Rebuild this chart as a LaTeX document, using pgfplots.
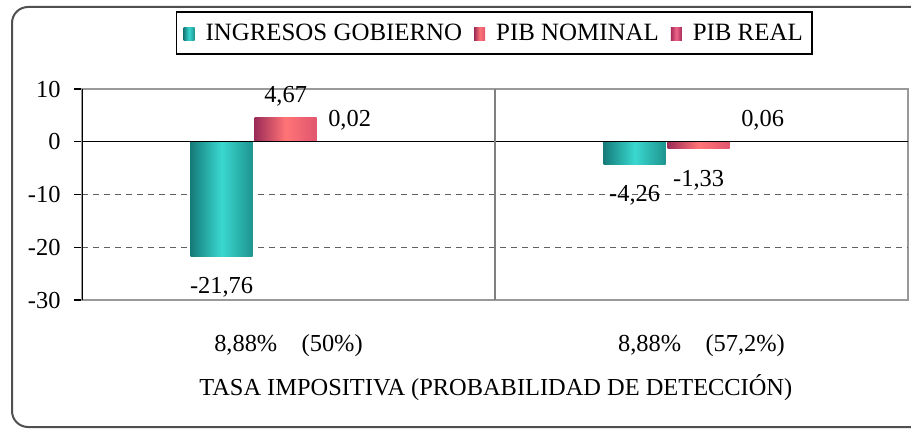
\documentclass[border=0pt]{standalone}
\usepackage{fontspec}
\setmainfont{Liberation Serif}
\usepackage{pgfplots}
\pgfplotsset{compat=1.18}
\definecolor{tealD}{HTML}{157C7A}
\definecolor{tealR}{HTML}{1E9490}
\definecolor{tealL}{HTML}{3AD8D0}
\definecolor{redD}{HTML}{9C2C58}
\definecolor{redL}{HTML}{FF7476}
\definecolor{redR}{HTML}{E0566E}
\definecolor{pinkD}{HTML}{A82A58}
\definecolor{pinkL}{HTML}{F0668A}
\definecolor{frameC}{HTML}{505050}
\definecolor{gridC}{HTML}{606060}
\pgfplotsset{
  sIng/.style={bar shift=-0.162, draw=none, left color=tealD, right color=tealR, middle color=tealL},
  sNom/.style={bar shift=-0.007, draw=none, left color=redD, right color=redR, middle color=redL},
  sReal/.style={bar shift=0.148, draw=none, left color=pinkD, right color=pinkD, middle color=pinkL},
}
\begin{document}
\begin{tikzpicture}[x=1bp,y=1bp,font=\fontsize{24.5}{28}\selectfont]
\useasboundingbox (0,0) rectangle (911,430);
\draw[frameC, line width=2bp, rounded corners=16bp] (12,3) rectangle (930,423);
\begin{axis}[
  at={(82bp,130bp)}, anchor=south west,
  scale only axis, width=826bp, height=211bp,
  ybar, bar width=0.15,
  xmin=-0.5, xmax=1.5, ymin=-30, ymax=10,
  xtick={0,1},
  xticklabels={{8,88\%\quad(50\%)},{8,88\%\quad(57,2\%)}},
  xtick style={draw=none},
  xticklabel style={anchor=center, yshift=-38bp},
  ytick={-30,-20,-10,0,10},
  ytick pos=left, tick align=outside,
  major tick length=8bp,
  ytick style={black, line width=1.2bp},
  yticklabel style={anchor=east, xshift=-10bp},
  /pgf/number format/assume math mode=true,
  extra y ticks={-20,-10},
  extra y tick labels={},
  extra y tick style={ymajorgrids=true, major tick length=0pt,
     major grid style={gridC, line width=1.5bp, dash pattern=on 6bp off 5bp}},
  axis line style={gray!80, line width=1.2bp},
  xlabel={TASA IMPOSITIVA (PROBABILIDAD DE DETECCIÓN)},
  xlabel style={at={(axis description cs:0.501,-0.417)}, anchor=center},
  legend columns=-1,
  legend style={at={(axis description cs:0.499,1.265)}, anchor=center,
     draw=black, line width=1.5bp, fill=white,
     font=\fontsize{25}{29}\selectfont,
     inner xsep=7bp, inner ysep=10bp,
     /tikz/every even column/.append style={column sep=10bp},
     /tikz/every odd column/.append style={column sep=9bp}},
  legend image code/.code={\path[#1,draw=none] (0bp,-7bp) rectangle (11bp,6bp);},
  nodes near coords={\pgfmathprintnumber[fixed,fixed zerofill,precision=2,use comma]{\pgfplotspointmeta}},
  visualization depends on=rawy\as\rawy,
  every node near coord/.append style={black, inner sep=3bp,
     yshift={\rawy<0 ? -18 : 8}},
]
\addplot[sIng] coordinates {(0,-21.76)};
\addplot[sNom] coordinates {(0,4.67)};
\addplot[sReal] coordinates {(0,0.02)};
\addplot[sIng, forget plot] coordinates {(1,-4.26)};
\addplot[sNom, forget plot] coordinates {(1,-1.33)};
\addplot[sReal, forget plot] coordinates {(1,0.06)};
\legend{INGRESOS GOBIERNO, PIB NOMINAL, PIB REAL}
\draw[black, line width=1.3bp] (axis cs:-0.5,0) -- (axis cs:1.5,0);
\draw[gray, line width=1.2bp] (axis cs:0.5,-30) -- (axis cs:0.5,10);
\draw[black, line width=1.3bp] (rel axis cs:0,0) -- (rel axis cs:0,1);
\end{axis}
\end{tikzpicture}
\end{document}
